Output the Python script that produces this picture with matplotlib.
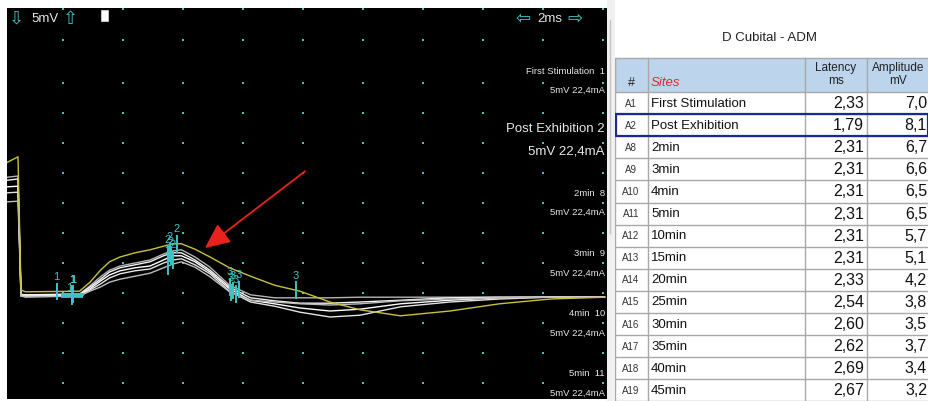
import numpy as np
import matplotlib.pyplot as plt
from matplotlib.patches import Rectangle

plt.rcParams['font.family'] = ['Liberation Sans', 'DejaVu Sans']

W, H = 929, 401

# ---- results table (D Cubital - ADM) ----
site_ids = ['A1', 'A2', 'A8', 'A9', 'A10', 'A11', 'A12', 'A13', 'A14',
            'A15', 'A16', 'A17', 'A18', 'A19']
site_names = ['First Stimulation', 'Post Exhibition', '2min', '3min', '4min',
              '5min', '10min', '15min', '20min', '25min', '30min', '35min',
              '40min', '45min']
latency_ms = [2.33, 1.79, 2.31, 2.31, 2.31, 2.31, 2.31, 2.31, 2.33, 2.54,
              2.60, 2.62, 2.69, 2.67]
amplitude_mv = [7.0, 8.1, 6.7, 6.6, 6.5, 6.5, 5.7, 5.1, 4.2, 3.8, 3.5, 3.7,
                3.4, 3.2]

# ---- displayed traces (ms, mV) ----
t_ms = [0.15, 0.5, 0.6, 0.75, 2.55, 2.9, 3.25, 3.55, 3.9, 4.4, 4.9, 5.35,
        5.65, 5.95, 6.4, 6.9, 7.55, 8.25, 9.05, 9.9, 10.9, 11.9, 13.25,
        14.9, 16.55, 18.25, 20.05]
trace_first = [19.3, 19.5, -0.2, -0.3, -0.2, 1.2, 2.7, 3.8, 4.5, 5.0, 5.5,
               6.5, 7.0, 7.2, 6.0, 4.3, 1.3, -0.3, -0.8, -0.8, -0.8, -0.7,
               -0.7, -0.7, -0.7, -0.7, -0.7]
trace_post = [21.8, 22.7, 0.5, 0.2, 0.3, 1.8, 3.8, 5.2, 6.0, 6.7, 7.2, 7.8,
              8.2, 8.2, 7.3, 6.0, 4.2, 2.8, 1.3, 0.3, -1.5, -2.8, -3.8, -3.0,
              -1.8, -1.0, -0.7]
trace_2min = [18.8, 19.0, -0.3, -0.3, -0.2, 1.0, 2.3, 3.5, 4.2, 4.7, 5.2,
              6.2, 6.7, 6.7, 5.5, 3.8, 1.0, -0.8, -1.3, -1.7, -1.7, -1.5,
              -1.2, -0.8, -0.7, -0.7, -0.7]
trace_3min = [17.7, 17.8, -0.5, -0.5, -0.3, 0.7, 2.0, 3.0, 3.7, 4.2, 4.5,
              5.5, 6.2, 6.2, 5.2, 3.5, 0.7, -1.2, -1.8, -2.5, -3.0, -2.7,
              -1.8, -1.2, -0.8, -0.7, -0.7]
trace_4min = [16.7, 16.8, -0.5, -0.5, -0.3, 0.5, 1.5, 2.5, 3.2, 3.7, 4.0,
              5.0, 5.5, 5.7, 4.7, 3.2, 0.3, -1.5, -2.2, -3.2, -4.0, -3.7,
              -2.3, -1.5, -1.0, -0.7, -0.7]
trace_5min = [15.2, 15.3, -0.5, -0.7, -0.5, 0.3, 1.0, 1.8, 2.3, 2.8, 3.3,
              4.2, 4.8, 5.2, 4.3, 2.7, 0.2, -1.2, -1.5, -1.8, -2.0, -1.8,
              -1.3, -1.0, -0.8, -0.7, -0.7]
peak_ms = [5.55, 5.8, 5.5, 5.6, 5.65, 5.5]
neg_ms = [7.85, 9.77, 7.55, 7.65, 7.75, 7.6]

traces = [trace_first, trace_post, trace_2min, trace_3min, trace_4min, trace_5min]
colors = ['#b4b4b4', '#c9c23a', '#f2f2f2', '#ffffff', '#e4e4e4', '#bdbdbd']
CYAN = '#3cc4c4'


def fx(x):
    return x / W


def fy(y):
    return 1 - y / H


fig = plt.figure(figsize=(W / 100, H / 100), dpi=100)

# ---- scope screen ----
ax = fig.add_axes([fx(7), fy(399), 600 / W, 391 / H])
ax.set_facecolor('black')
ax.set_xlim(4 / 30, 604 / 30)
ax.set_ylim(-106 / 6, 285 / 6)
ax.set_xticks([])
ax.set_yticks([])
for s in ax.spines.values():
    s.set_visible(False)

gx = np.arange(2, 21, 2)
gy = [47.3, 42.2] + list(range(35, -16, -5))
GX, GY = np.meshgrid(gx, gy)
ax.scatter(GX.ravel(), GY.ravel(), s=3, marker='s', color=CYAN, lw=0, zorder=1)

# white traces first, yellow (selected) on top
order = [0, 2, 3, 4, 5, 1]
for i in order:
    ax.plot(t_ms, traces[i], color=colors[i], lw=1.0, zorder=3 if i == 1 else 2)

for i in order:
    lat = latency_ms[i]
    y1 = np.interp(lat, t_ms, traces[i])
    ax.plot([lat, lat], [y1 - 1.3, y1 + 1.3], color=CYAN, lw=1.4, zorder=4)
    if i != 1:
        ax.plot([lat - 0.35, lat + 0.3], [y1, y1], color=CYAN, lw=2, zorder=4)
    ax.text(lat - (0.1 if i == 5 else 0), y1 + (1.6 if i != 5 else 0.6), '1',
            color=CYAN, fontsize=8, ha='center', va='bottom', zorder=5)
    y2 = np.interp(peak_ms[i], t_ms, traces[i])
    ax.plot([peak_ms[i]] * 2, [y2 - 1.3, y2 + 1.3], color=CYAN, lw=1.4, zorder=4)
    ax.text(peak_ms[i], y2 + 1.6, '2', color=CYAN, fontsize=8,
            ha='center', va='bottom', zorder=5)
    y3 = np.interp(neg_ms[i], t_ms, traces[i])
    ax.plot([neg_ms[i]] * 2, [y3 - 1.3, y3 + 1.3], color=CYAN, lw=1.4, zorder=4)
    ax.text(neg_ms[i], y3 + 1.6, '3', color=CYAN, fontsize=8,
            ha='center', va='bottom', zorder=5)

ax.annotate('', xy=(6.73, 7.5), xytext=(10.07, 20.3),
            arrowprops=dict(arrowstyle='-|>,head_length=1.1,head_width=0.5',
                            color='#e8231e', lw=1.3, mutation_scale=14,
                            shrinkA=0, shrinkB=0), zorder=6)

# screen header
fig.text(fx(16), fy(19), '\u21e9', color=CYAN, fontsize=13, ha='center', va='center')
fig.text(fx(45), fy(19), '5mV', color='#e6e6e6', fontsize=9.5, ha='center', va='center')
fig.text(fx(70), fy(19), '\u21e7', color=CYAN, fontsize=13, ha='center', va='center')
fig.patches.append(Rectangle((fx(101), fy(21)), 7 / W, 11 / H, transform=fig.transFigure,
                             facecolor='white', edgecolor='#dddddd', lw=0.5))
fig.text(fx(523), fy(19), '\u21e6', color=CYAN, fontsize=13, ha='center', va='center')
fig.text(fx(550), fy(19), '2ms', color='#e6e6e6', fontsize=9.5, ha='center', va='center')
fig.text(fx(575), fy(19), '\u21e8', color=CYAN, fontsize=13, ha='center', va='center')

# trace labels on the right of the screen
label_y = [71, 129, 193, 254, 314, 374]
for k in range(6):
    big = (k == 1)
    name = site_names[k] + (' ' if big else '  ') + site_ids[k][1:]
    fig.text(fx(605), fy(label_y[k]), name, color='#e8e8e8',
             fontsize=9.5 if big else 6.8, ha='right', va='center')
    fig.text(fx(605), fy(label_y[k] + (22 if big else 19)), '5mV 22,4mA',
             color='#e8e8e8', fontsize=9.5 if big else 6.8, ha='right', va='center')

# scrollbar strip
fig.patches.append(Rectangle((fx(607), 0), 8 / W, 1, transform=fig.transFigure,
                             facecolor='#f0f0f0', edgecolor='none'))
fig.lines.append(plt.Line2D([fx(610), fx(610)], [fy(233), fy(20)],
                            transform=fig.transFigure, color='#c4c4c4', lw=1))

# ---- table ----
tb = fig.add_axes([fx(612), 0, 317 / W, 1])
tb.set_xlim(612, 929)
tb.set_ylim(401, 0)
tb.axis('off')

col_x = [615, 648, 805, 867, 929]
head_top, head_bot = 58, 92
row_h = 22.1
grid_c = '#a8a8a8'

tb.text(770, 38, 'D Cubital - ADM', fontsize=9.5, ha='center', va='center', color='#222222')
tb.add_patch(Rectangle((col_x[0], head_top), col_x[-1] - col_x[0], head_bot - head_top,
                       facecolor='#bcd5ec', edgecolor=grid_c, lw=1))
for x in col_x[1:-1]:
    tb.plot([x, x], [head_top, H], color=grid_c, lw=1)
tb.plot([col_x[0], col_x[0]], [head_top, H], color=grid_c, lw=1)
tb.text(631, 83, '#', fontsize=9, ha='center', va='center', color='#222222')
tb.text(651, 83, 'Sites', fontsize=9.5, ha='left', va='center', color='#e8262a',
        style='italic')
tb.text(836, 68, 'Latency', fontsize=8.5, ha='center', va='center', color='#222222')
tb.text(836, 81, 'ms', fontsize=8.5, ha='center', va='center', color='#222222')
tb.text(898, 68, 'Amplitude', fontsize=8.5, ha='center', va='center', color='#222222')
tb.text(898, 81, 'mV', fontsize=8.5, ha='center', va='center', color='#222222')

for i in range(len(site_ids)):
    top = head_bot + i * row_h
    yc = top + row_h / 2 + 0.5
    tb.plot([col_x[0], col_x[-1]], [top + row_h, top + row_h], color=grid_c, lw=1)
    tb.text(631, yc, site_ids[i], fontsize=7, ha='center', va='center', color='#333333')
    tb.text(651, yc, site_names[i], fontsize=9.5, ha='left', va='center', color='#111111')
    tb.text(864, yc, f'{latency_ms[i]:.2f}'.replace('.', ','), fontsize=11.5,
            ha='right', va='center', color='#111111')
    tb.text(927, yc, f'{amplitude_mv[i]:.1f}'.replace('.', ','), fontsize=11.5,
            ha='right', va='center', color='#111111')

sel = 1
tb.add_patch(Rectangle((col_x[0] + 1, head_bot + sel * row_h), col_x[-1] - col_x[0] - 2,
                       row_h, facecolor='none', edgecolor='#1b2a8c', lw=1.6, zorder=5))

fig.savefig('out.png', dpi=100, facecolor='white')
